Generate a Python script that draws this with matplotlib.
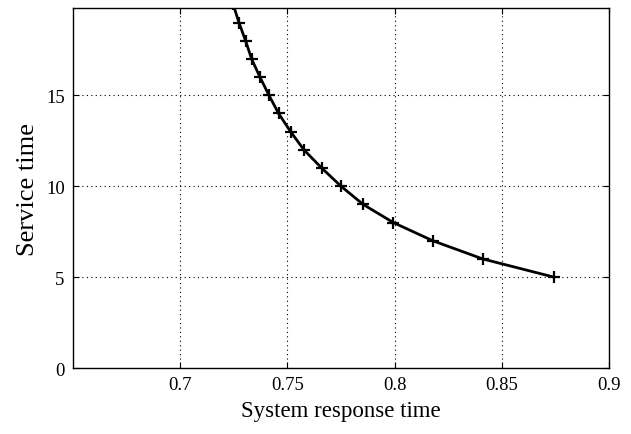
import numpy as np
import matplotlib
matplotlib.use("Agg")
import matplotlib.pyplot as plt

# values
response_time = [0.8743, 0.8411, 0.8178, 0.7994, 0.7853, 0.7750, 0.7660,
                 0.7577, 0.7515, 0.7459, 0.7414, 0.7372, 0.7333, 0.7305,
                 0.7274, 0.7247]
service_time = [5, 6, 7, 8, 9, 10, 11, 12, 13, 14, 15, 16, 17, 18, 19, 20]

x_ticks = [0.7, 0.75, 0.8, 0.85, 0.9]
x_tick_labels = ["0.7", "0.75", "0.8", "0.85", "0.9"]
y_ticks = [0, 5, 10, 15]

plt.rcParams["font.family"] = ["Liberation Serif", "DejaVu Serif"]

fig = plt.figure(figsize=(6.31, 4.35), dpi=100)
ax = fig.add_axes([0.1157, 0.1517, 0.8494, 0.8276])

ax.plot(response_time, service_time, color="black", linewidth=2.0,
        marker="+", markersize=9, markeredgewidth=1.6)

ax.set_xlim(0.65, 0.9)
ax.set_ylim(0, 19.8)
ax.set_xticks(x_ticks)
ax.set_xticklabels(x_tick_labels)
ax.set_yticks(y_ticks)

ax.grid(True, linestyle=(0, (1, 3)), color="black", linewidth=0.8)
ax.tick_params(direction="in", length=4, width=0.8, labelsize=13.5,
               top=True, right=True, pad=6)
for s in ax.spines.values():
    s.set_linewidth(1.0)

ax.set_xlabel("System response time", fontsize=16.5, labelpad=5)
ax.set_ylabel("Service time", fontsize=19, labelpad=5)

fig.savefig("out.png", dpi=100)
